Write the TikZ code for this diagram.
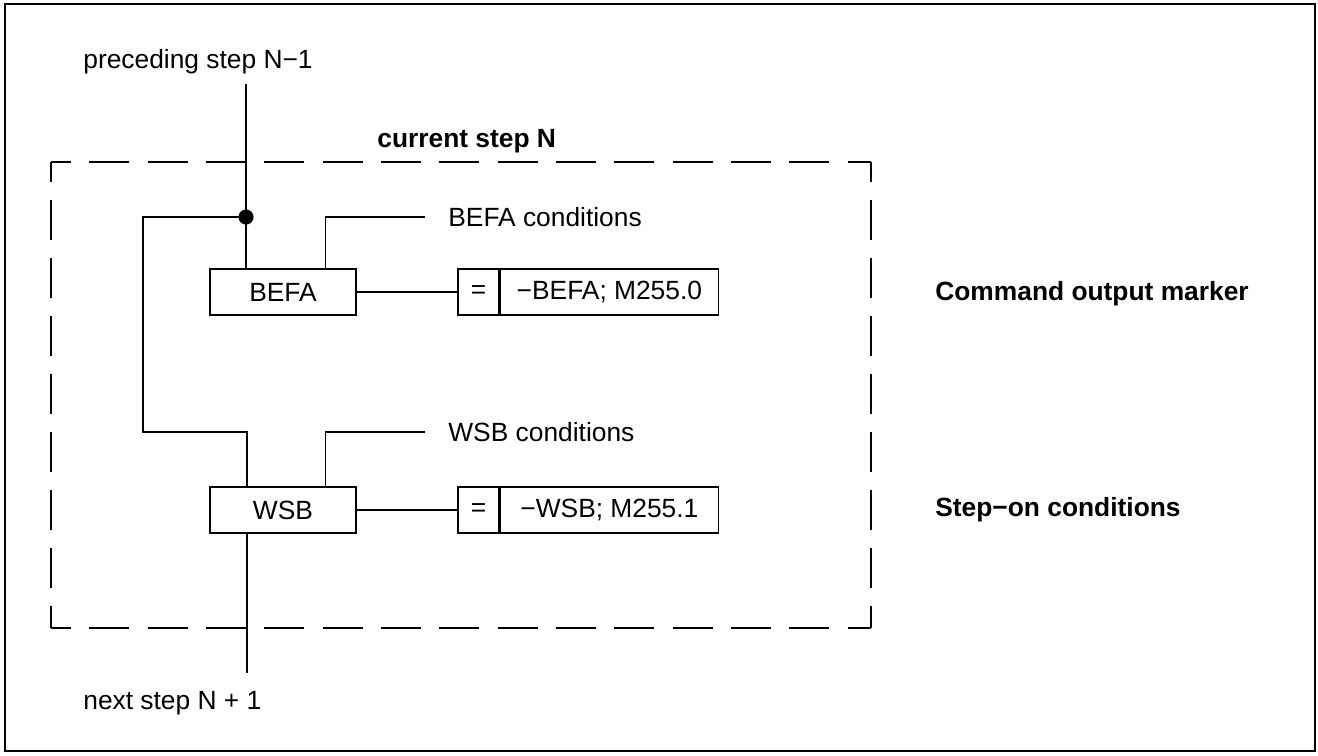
\documentclass[tikz,border=0pt]{standalone}
\usepackage{fontspec}
\setmainfont{Liberation Sans}
\usetikzlibrary{positioning}
\tikzset{>=stealth}
\tikzset{
  wire/.style={line width=0.6pt},
  stepbox/.style={draw, line width=0.8pt, minimum width=2.92cm, minimum height=0.92cm, inner sep=0pt},
  eqbox/.style={draw, line width=0.8pt, minimum width=0.82cm, minimum height=0.92cm, inner sep=0pt},
  cmdbox/.style={draw, line width=0.8pt, minimum width=4.36cm, minimum height=0.92cm, inner sep=0pt},
  txt/.style={anchor=base west, inner sep=0pt},
  dashside/.style={line width=0.6pt, dash pattern=on 22.7pt off #1, dash phase=11.35pt}
}

\begin{document}
\begin{tikzpicture}[x=0.02cm, y=-0.02cm, font=\fontsize{15}{18}\selectfont]
    \useasboundingbox (0,0) rectangle (1318,755);
    \draw[line width=1.2pt] (5,4) rectangle (1315,751);
    % dashed frame of the current step
    \coordinate (nw) at (51,162);
    \coordinate (ne) at (871,162);
    \coordinate (se) at (871,628);
    \coordinate (sw) at (51,628);
    \draw[dashside=10.5pt] (nw) -- (ne);
    \draw[dashside=10.5pt] (sw) -- (se);
    \draw[dashside=10.33pt] (nw) -- (sw);
    \draw[dashside=10.33pt] (ne) -- (se);
    \node[txt] (prev) at (83,68) {preceding step N−1};
    \node[txt, font=\fontsize{15}{18}\selectfont\bfseries] (cur) at (377,147) {current step N};
    \node[txt] (next) at (83,709) {next step N + 1};
    \node[txt, font=\fontsize{15}{18}\selectfont\bfseries] (cmdtxt) at (935,300.7) {Command output marker};
    \node[txt, font=\fontsize{15}{18}\selectfont\bfseries] (ontxt) at (935,516.7) {Step−on conditions};
    % step boxes
    \node[stepbox] (befa) at (283,292) {BEFA};
    \node[stepbox] (wsb) at (283,510) {WSB};
    \node[eqbox] (befaeq) at (478.5,292) {=};
    \node[cmdbox, anchor=west] (befacmd) at (befaeq.east) {−BEFA; M255.0};
    \node[eqbox] (wsbeq) at (478.5,510) {=};
    \node[cmdbox, anchor=west] (wsbcmd) at (wsbeq.east) {−WSB; M255.1};
    \node[txt] (befacond) at (448,226) {BEFA conditions};
    \node[txt] (wsbcond) at (448,441) {WSB conditions};
    \coordinate (top) at (246,84);
    \coordinate (jn) at (246,217);
    \coordinate (loop) at (143,432);
    \coordinate (bot) at (247,673);
    \coordinate (befac) at (425,217);
    \coordinate (wsbc) at (425,432);
    \draw[wire] (top) -- (befa.north -| top);
    \draw[wire] (jn) -| (loop) -| (wsb.north -| bot);
    \draw[wire] (wsb.south -| bot) -- (bot);
    \draw[wire] ([xshift=0.85cm]befa.north) |- (befac);
    \draw[wire] ([xshift=0.85cm]wsb.north) |- (wsbc);
    \draw[wire] (befa) -- (befaeq);
    \draw[wire] (wsb) -- (wsbeq);
    \fill (jn) circle [radius=4.3pt];
\end{tikzpicture}
\end{document}
